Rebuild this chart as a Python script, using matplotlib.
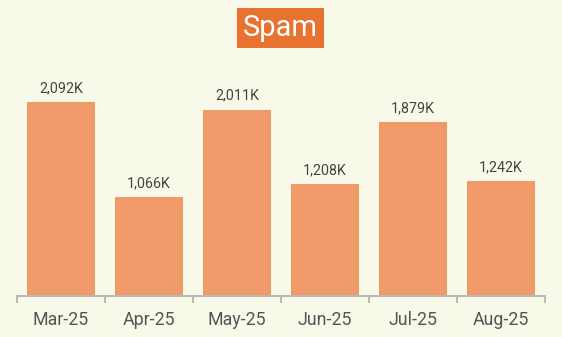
import matplotlib
matplotlib.use("Agg")
import matplotlib.pyplot as plt

months = ["Mar-25", "Apr-25", "May-25", "Jun-25", "Jul-25", "Aug-25"]
values = [2092, 1066, 2011, 1208, 1879, 1242]
labels = ["2,092K", "1,066K", "2,011K", "1,208K", "1,879K", "1,242K"]

plt.rcParams['font.family'] = ['Roboto', 'DejaVu Sans']
bg = "#F9F9E9"
fig = plt.figure(figsize=(5.62, 3.37), dpi=100, facecolor=bg)
W, H = 562, 337
left, right, bottom, top = 17, 545, 296, 40
ax = fig.add_axes([left / W, (H - bottom) / H, (right - left) / W, (bottom - top) / H])
ax.set_facecolor(bg)

x = list(range(len(months)))
ax.bar(x, values, width=0.77, color="#EF9A68", zorder=2)
ax.set_xlim(-0.5, len(months) - 0.5)
ax.set_ylim(0, 2092 * (bottom - top) / 194)

for xi, v, lab in zip(x, values, labels):
    ax.annotate(lab, (xi, v), xytext=(0, 5), textcoords="offset points",
                ha="center", va="bottom", fontsize=10.3, color="#444444")

for s in ["top", "right", "left"]:
    ax.spines[s].set_visible(False)
ax.spines["bottom"].set_color("#BBBBBB")
ax.spines["bottom"].set_linewidth(1.5)
ax.set_yticks([])
ax.set_xticks(x)
ax.set_xticklabels(months, fontsize=12.8, color="#555555")
ax.tick_params(axis="x", which="major", length=0, pad=11)
ax.set_xticks([i - 0.5 for i in range(len(months) + 1)], minor=True)
ax.tick_params(axis="x", which="minor", length=5, width=1.5, color="#BBBBBB", direction="out")

fig.text(280.5 / W, 1 - 28 / H, "Spam", ha="center", va="center", fontsize=21, color="white",
         bbox=dict(boxstyle="square,pad=0.22", facecolor="#E8722F", edgecolor="none"))

fig.savefig("out.png", dpi=100, facecolor=bg)
